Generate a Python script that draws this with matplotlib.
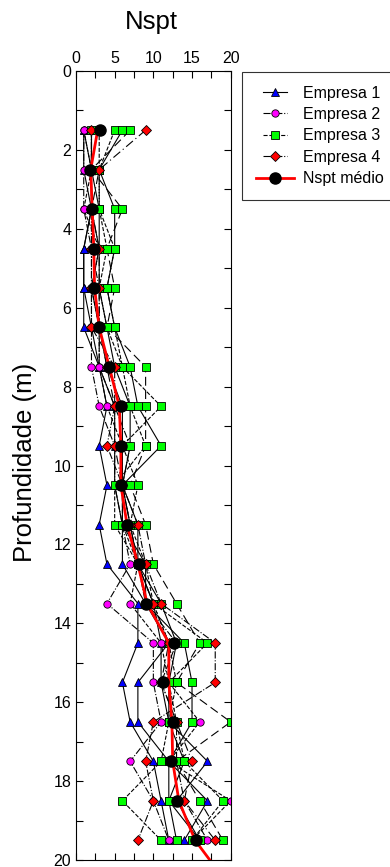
import matplotlib
matplotlib.use('Agg')
import matplotlib.pyplot as plt
from matplotlib.legend_handler import HandlerLine2D

plt.rcParams['font.family'] = ['Liberation Sans', 'DejaVu Sans']

# depth of each SPT reading (m)
depths = [1.5, 2.5, 3.5, 4.5, 5.5, 6.5, 7.5, 8.5, 9.5, 10.5,
          11.5, 12.5, 13.5, 14.5, 15.5, 16.5, 17.5, 18.5, 19.5]

# boreholes, by company (Nspt values per depth)
empresa1 = [
    [1, 1, 2, 1, 1, 1, 3, 4, 3, 4, 3, 4, 8, 8, 6, 7, 10, 11, 12],
    [2, 2, 2, 1, 1, 2, 3, 5, 5, 5, 6, 6, 9, 12, 8, 8, 12, 17, 14],
    [1, 2, 2, 3, 2, 3, 4, 6, 6, 6, 7, 8, 10, 11, 11, 12, 17, 13, 16],
]
empresa2 = [
    [1, 1, 1, 2, 2, 2, 2, 3, 5, 5, 6, 7, 4, 10, 10, 11, 7, 10, 12],
    [1, 2, 1, 3, 2, 3, 3, 4, 6, 6, 6, 8, 7, 11, 12, 16, 12, 20, 15],
    [2, 2, 2, 2, 3, 3, 3, 5, 7, 6, 7, 8, 9, 13, 11, 13, 13, 14, 17],
]
empresa3 = [
    [5, 3, 3, 4, 3, 4, 6, 7, 9, 5, 5, 8, 10, 12, 13, 12, 11, 6, 11],
    [6, 3, 5, 5, 4, 5, 7, 8, 11, 6, 6, 9, 9, 14, 15, 15, 12, 12, 16],
    [7, 2, 6, 4, 5, 4, 9, 9, 9, 7, 9, 10, 13, 16, 13, 20, 13, 16, 19],
    [3, 3, 3, 5, 4, 5, 6, 11, 6, 8, 7, 9, 10, 17, 12, 13, 14, 19, 15],
    [2, 2, 3, 3, 3, 4, 5, 7, 7, 6, 8, 8, 11, 13, 12, 12, 14, 12, 13],
]
empresa4 = [
    [2, 2, 2, 2, 2, 2, 5, 5, 4, 6, 8, 9, 11, 18, 18, 10, 9, 10, 8],
    [9, 3, 2, 3, 3, 3, 4, 5, 5, 6, 7, 8, 10, 12, 11, 13, 15, 14, 18],
]

# mean Nspt
nspt_medio = [3.1, 1.8, 2.1, 2.3, 2.3, 3.0, 4.3, 5.8, 5.8, 5.8,
              6.6, 8.2, 9.0, 12.7, 11.2, 12.6, 12.3, 13.1, 15.5]

# smoothed mean curve (red)
curva_prof = [1.5, 2.5, 3.5, 4.5, 5.5, 6.5, 7.5, 8.5, 9.5, 10.5,
              11.5, 12.5, 13.5, 14.5, 15.5, 16.5, 17.5, 18.5, 19.5, 20]
curva_nspt = [2.8, 1.9, 2.1, 2.3, 2.4, 3.0, 4.3, 5.6, 5.8, 5.8,
              6.6, 8.0, 9.2, 12.0, 12.0, 12.4, 12.5, 13.3, 15.4, 17.3]


class ShortLine(HandlerLine2D):
    # shorter handle line, centred like the long one
    def create_artists(self, legend, orig_handle, xdescent, ydescent,
                       width, height, fontsize, trans):
        return super().create_artists(legend, orig_handle,
                                      xdescent - 0.19 * width, ydescent,
                                      0.62 * width, height, fontsize, trans)


fig = plt.figure(figsize=(3.9, 8.67), dpi=100)
ax = fig.add_axes([76/390, 1 - 860/867, 154.7/390, (860 - 71)/867])

groups = [
    (empresa1, '^', 'blue', ['-', '-', '-'], 'Empresa 1'),
    (empresa2, 'o', 'magenta', ['-.', '--', '-.'], 'Empresa 2'),
    (empresa3, 's', 'lime', ['--', '-', (0, (8, 4)), '--', '-'], 'Empresa 3'),
    (empresa4, 'D', 'red', ['-.', (0, (8, 3, 1, 3))], 'Empresa 4'),
]

handles = []
for data, mk, col, styles, lab in groups:
    for i, vals in enumerate(data):
        h, = ax.plot(vals, depths, color='black', lw=0.8, ls=styles[i],
                     marker=mk, markersize=5.3 if mk != 'D' else 4.8,
                     markerfacecolor=col, markeredgecolor='black',
                     markeredgewidth=0.6)
        if i == 0:
            handles.append(h)

ax.plot(curva_nspt, curva_prof, color='red', lw=2, zorder=5)
ax.plot(nspt_medio, depths, ls='none', marker='o', markersize=8,
        color='black', zorder=6)
hm, = ax.plot([], [], color='red', lw=2, marker='o', markersize=8,
              markerfacecolor='black', markeredgecolor='black')
handles.append(hm)

ax.set_xlim(0, 20)
ax.set_ylim(20, 0)
ax.xaxis.tick_top()
ax.set_xticks([0, 5, 10, 15, 20])
ax.set_xticks([2.5, 7.5, 12.5, 17.5], minor=True)
ax.set_yticks(range(0, 21, 2))
ax.set_yticks(range(1, 20, 2), minor=True)
ax.tick_params(which='both', direction='in', top=True, bottom=True,
               left=True, right=True, length=5, width=0.8, labelsize=11.5)

fig.text(151/390, 1 - 29/867, 'Nspt', fontsize=18.5, ha='center',
         va='baseline')
fig.text(25/390, 1 - 462/867, 'Profundidade (m)', fontsize=18.5,
         rotation=90, ha='center', va='center')

labels = ['Empresa 1', 'Empresa 2', 'Empresa 3', 'Empresa 4', 'Nspt médio']
hmap = {h: ShortLine() for h in handles[:4]}
leg = fig.legend(handles, labels, loc='upper left',
                 bbox_to_anchor=(242/390, 1 - 72/867), borderaxespad=0,
                 fontsize=11.5, frameon=True, fancybox=False,
                 edgecolor='black', handlelength=2.4, handletextpad=0.55,
                 borderpad=0.85, labelspacing=0.4, handler_map=hmap)
leg.get_frame().set_linewidth(0.8)

fig.savefig('out.png', dpi=100)
